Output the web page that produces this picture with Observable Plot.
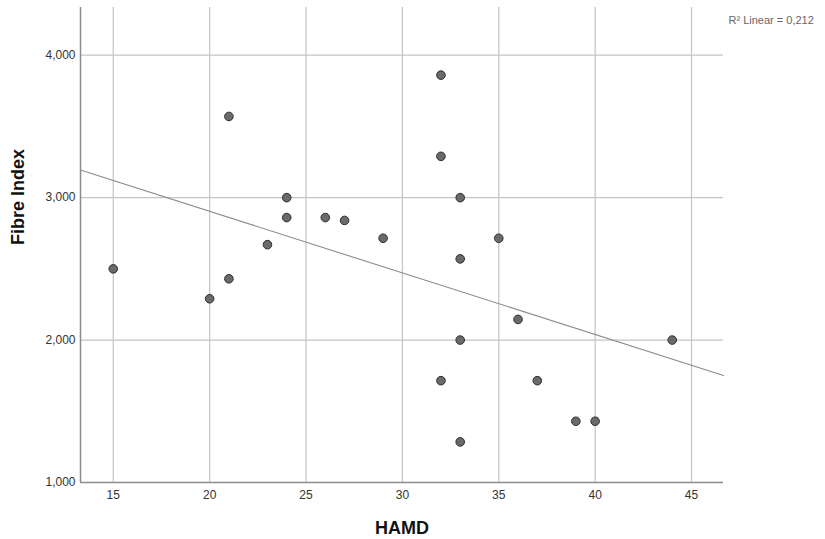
<!DOCTYPE html>
<html>
<head>
<meta charset="utf-8">
<script src="https://cdn.jsdelivr.net/npm/d3@7"></script>
<script src="https://cdn.jsdelivr.net/npm/@observablehq/plot@0.6"></script>
<style>
  html, body { margin: 0; padding: 0; background: #fff; }
  svg { display: block; }
</style>
</head>
<body>
<div id="chart"></div>
<script>
const hamd = [15, 20, 21, 21, 23, 24, 24, 26, 27, 29, 32, 32, 32, 33, 33, 33, 33, 35, 36, 37, 39, 40, 44];
const fibreIndex = [2500, 2290, 3570, 2430, 2670, 3000, 2860, 2860, 2840, 2715, 3860, 3290, 1715, 3000, 2570, 2000, 1285, 2715, 2145, 1715, 1430, 1430, 2000];
const xTicks = [15, 20, 25, 30, 35, 40, 45];
const yTicks = [1000, 2000, 3000, 4000];
const xDomain = [13.3, 46.66];
const yDomain = [1000, 4335];
const xTitle = "HAMD";
const yTitle = "Fibre Index";
const r2Label = "R\u00B2 Linear = 0,212";

const data = hamd.map((h, i) => ({x: h, y: fibreIndex[i]}));

// least squares fit computed from the data
const mx = d3.mean(hamd), my = d3.mean(fibreIndex);
const sxy = d3.sum(data, d => (d.x - mx) * (d.y - my));
const sxx = d3.sum(data, d => (d.x - mx) ** 2);
const slope = sxy / sxx, intercept = my - slope * mx;
const fitLine = xDomain.map(x => ({x, y: intercept + slope * x}));

const font = "'Liberation Sans', Arial, sans-serif";

const chart = Plot.plot({
  width: 825,
  height: 539,
  marginLeft: 80,
  marginRight: 102,
  marginTop: 7,
  marginBottom: 57,
  style: {fontFamily: font, fontSize: "12px", color: "#333", background: "#fff"},
  x: {domain: xDomain},
  y: {domain: yDomain},
  marks: [
    Plot.gridX(xTicks, {stroke: "#c4c4c4", strokeOpacity: 1, strokeWidth: 1.2}),
    Plot.gridY(yTicks.slice(1), {stroke: "#c4c4c4", strokeOpacity: 1, strokeWidth: 1.2}),
    Plot.ruleX([xDomain[0]], {stroke: "#8c8c8c", strokeWidth: 1.5}),
    Plot.ruleY([yDomain[0]], {stroke: "#8c8c8c", strokeWidth: 1.5}),
    Plot.axisX(xTicks, {tickSize: 0, tickPadding: 8, label: null, fontSize: 12, fill: "#333"}),
    Plot.axisY(yTicks, {tickSize: 0, tickPadding: 5, label: null, fontSize: 12, fill: "#333", tickFormat: d3.format(",")}),
    Plot.line(fitLine, {x: "x", y: "y", stroke: "#8a8a8a", strokeWidth: 1.1}),
    Plot.dot(data, {x: "x", y: "y", r: 4.3, fill: "#6a6a6a", stroke: "#2e2e2e", strokeWidth: 1}),
    Plot.text([xTitle], {frameAnchor: "bottom", dy: 51, text: d => d, fontSize: 18, fontWeight: "bold", fill: "#111"}),
    Plot.text([yTitle], {frameAnchor: "left", dx: -62, rotate: -90, text: d => d, fontSize: 18, fontWeight: "bold", fill: "#111"}),
    Plot.text([r2Label], {frameAnchor: "top-right", dx: 5, dy: 9, textAnchor: "start", text: d => d, fontSize: 11, fill: "#666"})
  ]
});
document.getElementById("chart").appendChild(chart);
</script>
</body>
</html>
